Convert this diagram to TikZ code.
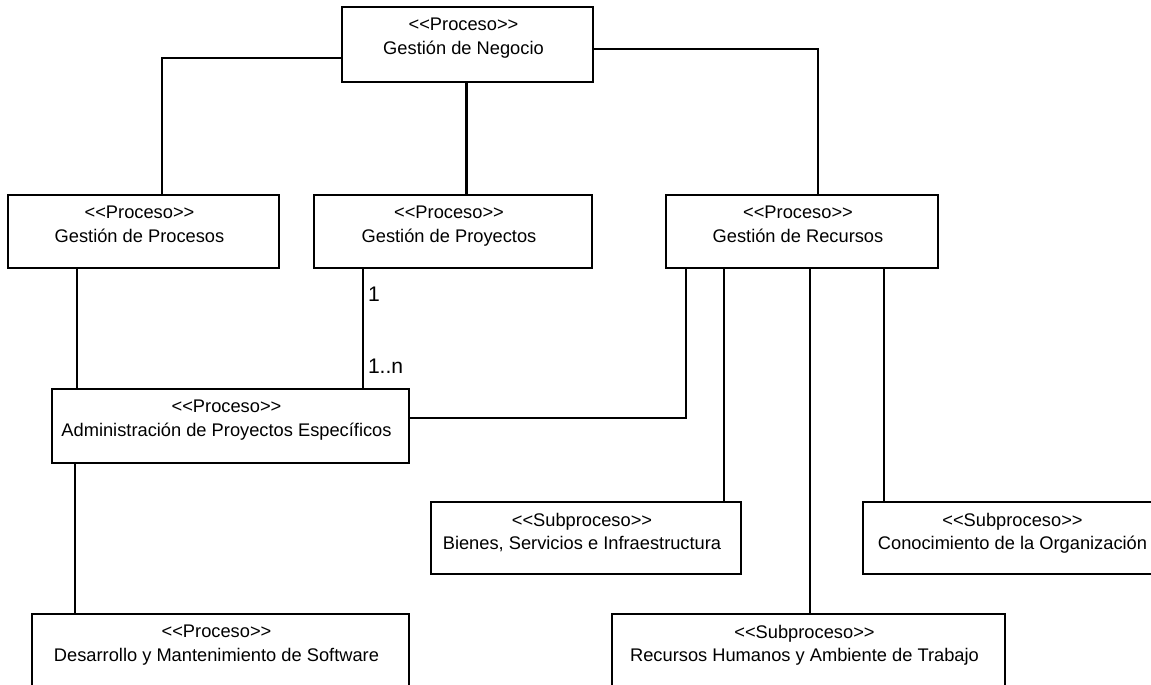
\documentclass[tikz,border=0pt]{standalone}
\usepackage{fontspec}
\setmainfont{Liberation Sans}[Ligatures=TeXOff]
\begin{document}
\begin{tikzpicture}[x=0.2cm,y=0.2cm, line width=1.15pt,
  box/.style={draw, inner sep=0pt},
  tag/.style={anchor=north, align=center, inner sep=0pt, xshift=-0.08cm, font=\fontsize{10.4}{13.4}\selectfont},
  mult/.style={anchor=base west, inner sep=0pt, font=\fontsize{12}{14}\selectfont}]
\clip (0,0) rectangle (115.1,-68.5);
% procesos
\node[box, minimum width=5.02cm, minimum height=1.5cm] (neg) at (46.75,-4.45) {};
\node[tag] (negt) at ([yshift=-0.22cm]neg.north) {<<Proceso>>\\Gestión de Negocio};
\node[box, minimum width=5.42cm, minimum height=1.46cm] (proc) at (14.35,-23.15) {};
\node[tag] (proct) at ([yshift=-0.22cm]proc.north) {<<Proceso>>\\Gestión de Procesos};
\node[box, minimum width=5.56cm, minimum height=1.46cm] (proy) at (45.3,-23.15) {};
\node[tag] (proyt) at ([yshift=-0.22cm]proy.north) {<<Proceso>>\\Gestión de Proyectos};
\node[box, minimum width=5.44cm, minimum height=1.46cm] (rec) at (80.2,-23.15) {};
\node[tag] (rect) at ([yshift=-0.22cm]rec.north) {<<Proceso>>\\Gestión de Recursos};
\node[box, minimum width=7.14cm, minimum height=1.48cm] (adm) at (23.05,-42.6) {};
\node[tag] (admt) at ([yshift=-0.22cm]adm.north) {<<Proceso>>\\Administración de Proyectos Específicos};
\node[box, minimum width=7.54cm, minimum height=1.48cm] (des) at (22.05,-65.1) {};
\node[tag] (dest) at ([yshift=-0.22cm]des.north) {<<Proceso>>\\Desarrollo y Mantenimiento de Software};
% subprocesos
\node[box, minimum width=6.2cm, minimum height=1.44cm] (bie) at (58.6,-53.8) {};
\node[tag] (biet) at ([yshift=-0.22cm]bie.north) {<<Subproceso>>\\Bienes, Servicios e Infraestructura};
\node[box, minimum width=6.14cm, minimum height=1.44cm] (con) at (101.65,-53.8) {};
\node[tag] (cont) at ([yshift=-0.22cm]con.north) {<<Subproceso>>\\Conocimiento de la Organización};
\node[box, minimum width=7.86cm, minimum height=1.48cm] (rh) at (80.85,-65.1) {};
\node[tag] (rht) at ([yshift=-0.22cm]rh.north) {<<Subproceso>>\\Recursos Humanos y Ambiente de Trabajo};
% conexiones
\draw ([yshift=-0.27cm]neg.west) -| ([xshift=0.37cm]proc.north);
\draw ([xshift=-0.02cm]neg.south) -- ([xshift=-0.02cm]neg.south |- proy.north);
\draw ([yshift=-0.09cm]neg.east) -| ([xshift=0.32cm]rec.north);
\draw ([xshift=-1.33cm]proc.south) -- ([xshift=-1.33cm]proc.south |- adm.north);
\draw ([xshift=-1.8cm]proy.south) coordinate (pa) -- (pa |- adm.north) coordinate (pb);
\node[mult] (m1) at ([xshift=0.08cm,yshift=-0.64cm]pa) {1};
\node[mult] (mn) at ([xshift=0.08cm,yshift=0.28cm]pb) {1..n};
\draw ([xshift=-2.32cm]rec.south) |- ([yshift=0.16cm]adm.east);
\draw ([xshift=-1.56cm]rec.south) -- ([xshift=-1.56cm]rec.south |- bie.north);
\draw ([xshift=0.16cm]rec.south) -- ([xshift=0.16cm]rec.south |- rh.north);
\draw ([xshift=1.64cm]rec.south) -- ([xshift=1.64cm]rec.south |- con.north);
\draw ([xshift=-3.11cm]adm.south) -- ([xshift=-3.11cm]adm.south |- des.north);
\end{tikzpicture}
\end{document}
